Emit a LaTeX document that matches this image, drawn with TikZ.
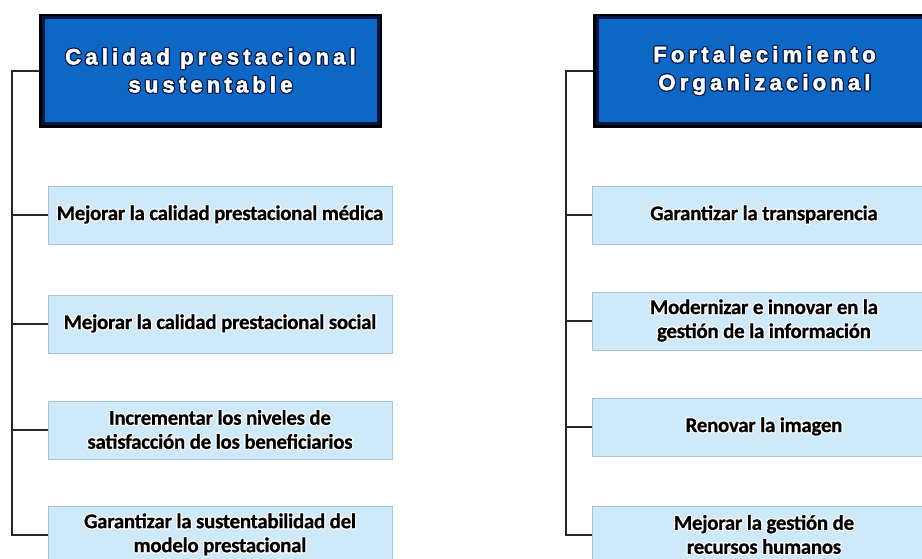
\documentclass[tikz,border=0pt]{standalone}
\usepackage{fontspec}
\usepackage{contour}
\setmainfont{Carlito}
\newfontfamily\hdrfont[LetterSpace=19,FakeBold=2.5]{Liberation Sans Bold}
\newfontfamily\itmfont[LetterSpace=-1.5,FakeBold=0.6]{Carlito Bold}
\contourlength{1.1pt}
\definecolor{hdrblue}{RGB}{12,104,196}
\definecolor{hdrnavy}{RGB}{4,22,70}
\definecolor{itemblue}{RGB}{206,233,250}
\definecolor{itemedge}{RGB}{165,196,218}
\newcommand{\hdrtxt}[1]{\contour{hdrnavy}{\textcolor{white}{#1}}}
\newcommand{\itmtxt}[1]{\contour{white}{#1}}
\begin{document}
\begin{tikzpicture}[x=1pt, y=-1pt,
    hdrbox/.style={draw=black, line width=4pt, fill=hdrblue, minimum width=339pt, minimum height=110pt,
        font=\hdrfont\fontsize{22}{28}\selectfont, text=white, align=center, inner sep=0pt},
    itembox/.style={draw=itemedge, line width=0.8pt, fill=itemblue, minimum width=344pt, minimum height=58pt,
        font=\itmfont\fontsize{21}{24}\selectfont, align=center, inner sep=0pt},
    link/.style={draw=black!85, line width=1.3pt}]
    % 1. marco y recorte
    \useasboundingbox (0,0) rectangle (922,559);
    \clip (0,0) rectangle (922,559);
    \fill[white] (0,0) rectangle (922,559);

    % 2. encabezados
    \node[hdrbox] (hdrL) at (210.5,71) {\hdrtxt{Calidad prestacional}\\\hdrtxt{sustentable}};
    \node[hdrbox] (hdrR) at (764.5,71) {\hdrtxt{Fortalecimiento}\\\hdrtxt{Organizacional}};
    \draw[hdrnavy, line width=3pt] ([shift={(4,-4)}]hdrL.south west) rectangle ([shift={(-4,4)}]hdrL.north east);
    \draw[hdrnavy, line width=3pt] ([shift={(4,-4)}]hdrR.south west) rectangle ([shift={(-4,4)}]hdrR.north east);

    % 3. objetivos columna izquierda
    \node[itembox] (itL1) at (220,215) {\itmtxt{Mejorar la calidad prestacional médica}};
    \node[itembox] (itL2) at (220,324) {\itmtxt{Mejorar la calidad prestacional social}};
    \node[itembox] (itL3) at (220,430) {\itmtxt{Incrementar los niveles de}\\\itmtxt{satisfacción de los beneficiarios}};
    \node[itembox] (itL4) at (220,535) {\itmtxt{Garantizar la sustentabilidad del}\\\itmtxt{modelo prestacional}};

    % 4. objetivos columna derecha
    \node[itembox] (itR1) at (764,215) {\itmtxt{Garantizar la transparencia}};
    \node[itembox] (itR2) at (764,321) {\itmtxt{Modernizar e innovar en la}\\\itmtxt{gestión de la información}};
    \node[itembox] (itR3) at (764,427) {\itmtxt{Renovar la imagen}};
    \node[itembox] (itR4) at (764,535) {\itmtxt{Mejorar la gestión de}\\\itmtxt{recursos humanos}};

    % 5. conectores
    \coordinate (spineL) at (12,71);
    \coordinate (spineR) at (566,71);
    \draw[link] (hdrL.west) -- (spineL) |- (itL4.west);
    \draw[link] (hdrR.west) -- (spineR) |- (itR4.west);
    \foreach \i in {1,2,3} {
        \draw[link] (spineL |- itL\i.west) -- (itL\i.west);
        \draw[link] (spineR |- itR\i.west) -- (itR\i.west);
    }
\end{tikzpicture}
\end{document}
